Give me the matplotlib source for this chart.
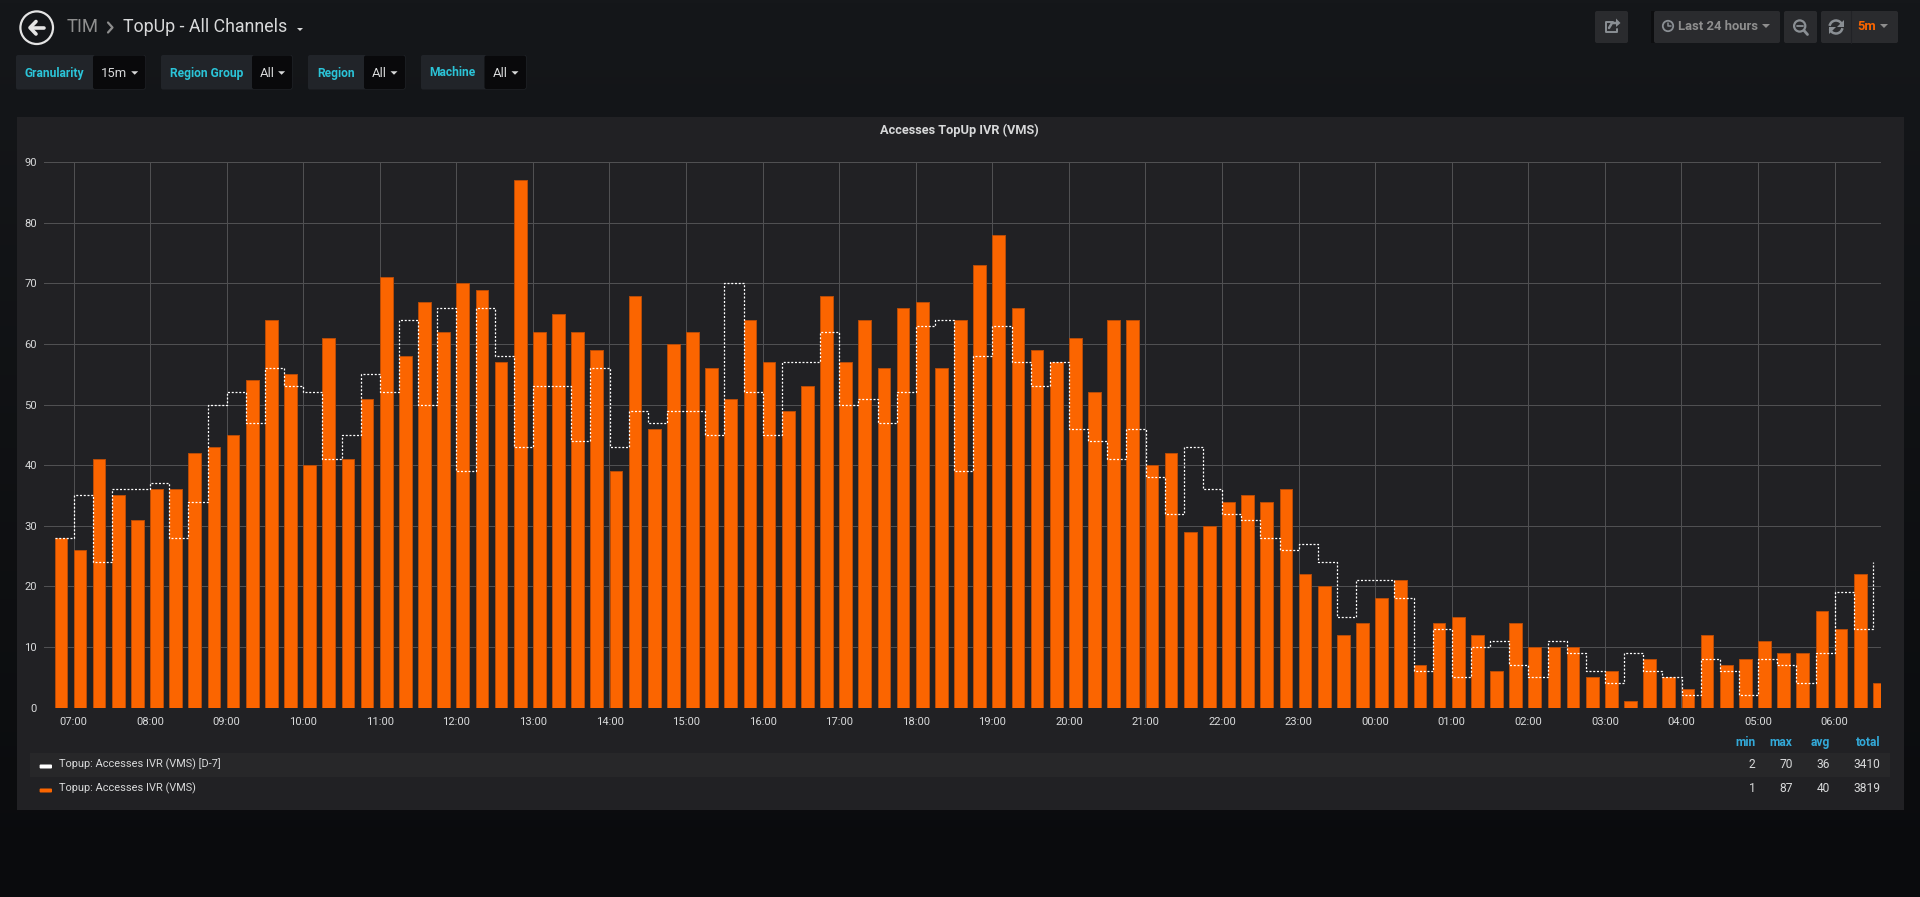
# -*- coding: utf-8 -*-
import numpy as np
import matplotlib
matplotlib.use('Agg')
import matplotlib.pyplot as plt
from matplotlib.patches import Rectangle, FancyBboxPatch, Circle, Arc, Polygon

plt.rcParams['font.family'] = ['Roboto', 'DejaVu Sans']

# values every 15 min, the first bar is 06:45
access_now = [28, 26, 41, 35, 31, 36, 36, 42, 43, 45, 54, 64, 55, 40, 61, 41,
              51, 71, 58, 67, 62, 70, 69, 57, 87, 62, 65, 62, 59, 39, 68, 46,
              60, 62, 56, 51, 64, 57, 49, 53, 68, 57, 64, 56, 66, 67, 56, 64,
              73, 78, 66, 59, 57, 61, 52, 64, 64, 40, 42, 29, 30, 34, 35, 34,
              36, 22, 20, 12, 14, 18, 21, 7, 14, 15, 12, 6, 14, 10, 10, 10,
              5, 6, 1, 8, 5, 3, 12, 7, 8, 11, 9, 9, 16, 13, 22, 4]
access_d7 = [28, 35, 24, 36, 36, 37, 28, 34, 50, 52, 47, 56, 53, 52, 41, 45,
             55, 52, 64, 50, 66, 39, 66, 58, 43, 53, 53, 44, 56, 43, 49, 47,
             49, 49, 45, 70, 52, 45, 57, 57, 62, 50, 51, 47, 52, 63, 64, 39,
             58, 63, 57, 53, 57, 46, 44, 41, 46, 38, 32, 43, 36, 32, 31, 28,
             26, 27, 24, 15, 21, 21, 18, 6, 13, 5, 10, 11, 7, 5, 11, 9,
             6, 4, 9, 6, 5, 2, 8, 6, 2, 8, 7, 4, 9, 19, 13, 24]
hour_ticks = list(range(7, 31))
hour_labels = ['%02d:00' % (h % 24) for h in hour_ticks]
y_ticks = [0, 10, 20, 30, 40, 50, 60, 70, 80, 90]
name_d7 = 'Topup: Accesses IVR (VMS) [D-7]'
name_now = 'Topup: Accesses IVR (VMS)'
stat_names = ['min', 'max', 'avg', 'total']

W, H = 1920, 897
ORANGE = '#fb6500'
TEXT = '#d8d9da'
GREY = '#8e8e8e'
CYAN = '#2bc4d8'
BLUE = '#33a9d8'

fig = plt.figure(figsize=(W / 100, H / 100), dpi=100)

# everything around the chart is drawn in pixel coordinates
ov = fig.add_axes([0, 0, 1, 1], zorder=0)
ov.set_xlim(0, W)
ov.set_ylim(H, 0)
ov.axis('off')
grad = np.linspace(0, 1, 256).reshape(-1, 1)
cmap = matplotlib.colors.LinearSegmentedColormap.from_list('bg', ['#15171a', '#0a0b0d'])
ov.imshow(grad, cmap=cmap, extent=[0, W, H, 0], aspect='auto', zorder=0)


def box(x0, y0, x1, y1, color, round_=0):
    if round_:
        p = FancyBboxPatch((x0, y0), x1 - x0, y1 - y0, boxstyle='round,pad=0,rounding_size=%s' % round_,
                           fc=color, ec='none', zorder=1)
    else:
        p = Rectangle((x0, y0), x1 - x0, y1 - y0, fc=color, ec='none', zorder=1)
    ov.add_patch(p)


def label(x, y, s, px=11, color=TEXT, ha='left', weight='normal'):
    ov.text(x, y, s, fontsize=px * 0.72, color=color, ha=ha, va='center', weight=weight, zorder=5)


def caret(x, y, color=TEXT, w=3.5, h=3.5):
    ov.add_patch(Polygon([(x - w, y - h / 2), (x + w, y - h / 2), (x, y + h / 2)], fc=color, ec='none', zorder=5))


def line(xs, ys, color, lw=1.5):
    ov.plot(xs, ys, color=color, lw=lw, solid_capstyle='round', zorder=5)


# header
ov.add_patch(Circle((36.7, 27.7), 16.3, fc='none', ec='#e4e4e4', lw=1.6, zorder=5))
line([30.5, 43.5], [27.7, 27.7], '#e4e4e4', 2.6)
line([36, 30, 36], [21.5, 27.7, 34], '#e4e4e4', 2.6)
label(67, 27, 'TIM', 18.5, GREY)
line([108, 112.5, 108], [22.5, 27.5, 32.5], GREY, 1.6)
label(123, 27, 'TopUp - All Channels', 17.8, TEXT)
caret(300, 29.5, TEXT, 3, 3)

# template variables
variables = [(16, 93, 145.7, 'Granularity', '15m', 101, 134.7),
             (161, 252, 292.5, 'Region Group', 'All', 260, 281.6),
             (308, 364, 405.5, 'Region', 'All', 372, 394),
             (421, 484.5, 526.5, 'Machine', 'All', 493, 515)]
for x0, x1, x2, name, val, xv, xc in variables:
    box(x0, 55, x2, 89.5, '#212429', 2)
    box(x1, 55.5, x2 - 0.5, 89, '#09090b', 2)
    label((x0 + x1) / 2, 73, name, 12, CYAN, ha='center', weight='bold')
    label(xv, 73.5, val, 13, TEXT)
    caret(xc, 73, TEXT)

# top right buttons
BTN = '#2a2b2e'
box(1595, 11, 1628, 43, BTN, 2)
box(1651, 11, 1655, 43, '#0d0e10')
box(1654, 11, 1780, 43, BTN, 2)
box(1784, 11, 1817, 43, BTN, 2)
box(1821, 11, 1898, 43, BTN, 2)
line([1851, 1851], [11, 43], '#212226', 0.8)
IC = '#8a8f94'
line([1613, 1606, 1606, 1617, 1617], [22, 22, 32.5, 32.5, 29], IC, 1.4)
line([1609, 1612, 1618], [28, 23, 23], IC, 1.8)
ov.add_patch(Polygon([(1616, 18.5), (1620.5, 23), (1616, 27)], fc=IC, ec='none', zorder=5))
ov.add_patch(Circle((1668, 26), 5.2, fc='none', ec=IC, lw=1.3, zorder=5))
line([1668, 1668, 1671], [22.8, 26.5, 26.5], IC, 1.1)
label(1678, 27, 'Last 24 hours', 13, GREY, weight='bold')
caret(1766, 26, GREY, 4, 4)
ov.add_patch(Circle((1799.7, 26), 5.6, fc='none', ec=IC, lw=1.6, zorder=5))
line([1797, 1802.5], [26, 26], IC, 1.3)
line([1804, 1807.5], [30.5, 34.5], IC, 2)
ov.add_patch(Arc((1836, 27), 13, 13, theta1=190, theta2=340, ec=IC, lw=1.8, zorder=5))
ov.add_patch(Arc((1836, 27), 13, 13, theta1=10, theta2=160, ec=IC, lw=1.8, zorder=5))
ov.add_patch(Polygon([(1843.5, 20), (1843.5, 27), (1836.5, 27)], fc=IC, ec='none', zorder=5))
ov.add_patch(Polygon([(1828.5, 34), (1828.5, 27), (1835.5, 27)], fc=IC, ec='none', zorder=5))
label(1857, 27, '5m', 13, ORANGE, weight='bold')
caret(1884, 26, GREY, 4, 4)

# panel
box(17, 117, 1903.5, 810.5, '#212124')
label(959, 130, 'Accesses TopUp IVR (VMS)', 12.8, TEXT, ha='center', weight='bold')

# legend table
box(30, 753, 1890, 777, '#272729')
for xr, s in zip([1755.5, 1792.7, 1829.9, 1880], stat_names):
    label(xr, 742.5, s, 12, BLUE, ha='right', weight='bold')
rows = [(764, name_d7, access_d7, '#ffffff'), (788, name_now, access_now, ORANGE)]
for y, name, vals, col in rows:
    box(39.6, y + 0.5, 52, y + 4.5, col, 1)
    label(59, y, name, 11, TEXT)
    stats = [min(vals), max(vals), round(np.mean(vals)), sum(vals)]
    for xr, v in zip([1755.5, 1792.7, 1829.9, 1880], stats):
        label(xr, y, str(v), 12, TEXT, ha='right')

# chart
PX_H = 76.57
left, right, top, bottom = 44, 1881, 162.3, 707.5
ax = fig.add_axes([left / W, 1 - bottom / H, (right - left) / W, (bottom - top) / H], zorder=2)
ax.patch.set_alpha(0)
x = 7 - 19 / PX_H + 0.25 * np.arange(len(access_now))
ax.bar(x, access_now, width=12.7 / PX_H, align='edge', color=ORANGE, edgecolor='#b84c08', linewidth=0.7, zorder=3)
ax.step(x, access_d7, where='post', color='#ffffff', lw=0.9, dashes=(1.6, 1.4), zorder=4)
ax.set_xlim(7 - (73.5 - left) / PX_H, 7 + (right - 73.5) / PX_H)
ax.set_ylim(0, 90)
ax.set_xticks(hour_ticks)
ax.set_xticklabels(hour_labels)
ax.set_yticks(y_ticks)
ax.tick_params(length=0, labelsize=11.3 * 0.72, labelcolor=TEXT)
ax.tick_params(axis='x', pad=7)
ax.tick_params(axis='y', pad=5)
ax.grid(True, color='#505052', lw=0.75)
ax.set_axisbelow(True)
for s in ax.spines.values():
    s.set_visible(False)

fig.savefig('out.png', dpi=100, facecolor='#0a0b0d')
